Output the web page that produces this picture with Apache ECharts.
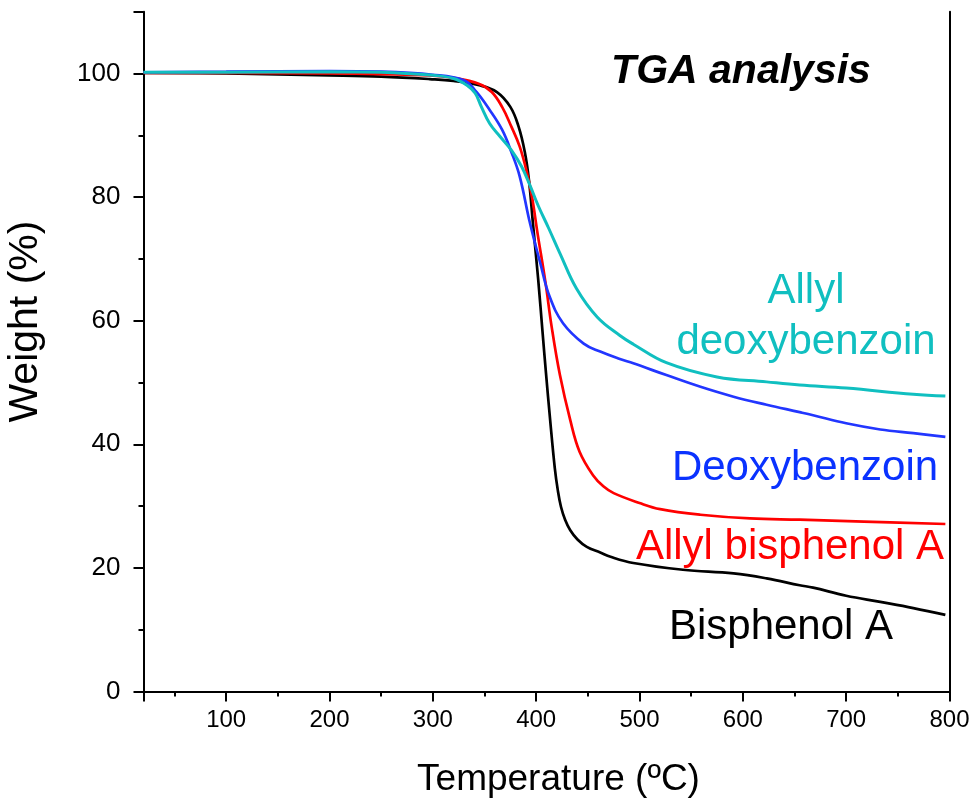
<!DOCTYPE html>
<html>
<head>
<meta charset="utf-8">
<script src="https://cdn.jsdelivr.net/npm/echarts@6/dist/echarts.min.js"></script>
<style>
html,body{margin:0;padding:0;background:#fff;}
#chart{width:977px;height:799px;}
</style>
</head>
<body>
<div id="chart"></div>
<script>
// Temperature (°C) and weight (%)
var bpaT = [20,100,200,250,297,320,345,362,375,383,389,393,397,402,406,409.5,413.5,418,421,424,428,433,440,449,462,472,494,542,591,623,655,668,700,733,765,796];
var bpaW = [100.1,100.0,99.7,99.5,99.1,98.8,98.1,97.0,94.6,91.4,87.3,82.8,75.5,66.6,58.5,51.5,44.0,36.2,32.5,29.9,27.8,26.1,24.6,23.4,22.5,21.8,20.8,19.7,19.1,18.3,17.2,16.8,15.5,14.5,13.5,12.4];

var abpaT = [20,100,200,250,297,320,345,357,367,376,384,391,396,401,409,415,423,433,442,455,465,475,500,520,559,607,655,717,796];
var abpaW = [100.1,100.1,100.0,99.9,99.7,99.3,98.3,97.0,94.6,91.4,88.2,84.0,80.0,74.5,66.2,59.0,51.2,43.9,38.8,35.0,33.2,32.1,30.5,29.5,28.6,28.0,27.8,27.5,27.1];

var dbT = [20,100,200,250,300,330,342,355,367,376,384,394,404,413,426,446,462,481,494,526,559,591,623,655,668,700,733,765,796];
var dbW = [100.2,100.3,100.4,100.3,99.8,98.9,97.05,94.1,90.9,87.3,83.4,75.8,69.3,63.9,59.6,56.3,55.0,53.8,53.1,51.2,49.3,47.7,46.4,45.2,44.7,43.4,42.4,41.8,41.2];

var adbT = [20,100,200,250,300,320,333,341,347,355,365,376,386,394,402,412,423,439,459,481,494,526,575,623,655,700,765,796];
var adbW = [100.2,100.2,100.3,100.2,99.7,99.2,98.1,96.8,94.6,91.9,89.8,87.6,84.9,81.9,78.6,75.0,70.9,65.2,60.6,57.6,56.2,53.2,50.9,50.1,49.6,49.1,48.1,47.8];

var seriesNames = ['Bisphenol A','Allyl bisphenol A','Deoxybenzoin','Allyl deoxybenzoin'];
var seriesColors = ['#000000','#ff0000','#2236ff','#10bfc0'];

function pairs(t, w){ return t.map(function(v,i){ return [v, w[i]]; }); }
var allData = [pairs(bpaT,bpaW), pairs(abpaT,abpaW), pairs(dbT,dbW), pairs(adbT,adbW)];

var chart = echarts.init(document.getElementById('chart'));
var FONT = 'Liberation Sans, Arial, sans-serif';

var option = {
  animation: false,
  backgroundColor: '#ffffff',
  grid: { left: 143.5, right: 27.5, top: 11.7, bottom: 107.5, containLabel: false, outerBoundsMode: 'none' },
  xAxis: {
    type: 'value', min: 20, max: 800, splitNumber: 8,
    name: 'Temperature (ºC)', nameLocation: 'middle', nameGap: 70,
    nameTextStyle: { fontFamily: FONT, fontSize: 37, color: '#000', padding: [0, 0, 0, 24] },
    axisLine: { onZero: false, lineStyle: { color: '#000', width: 2 } },
    axisTick: { inside: false, length: 10, lineStyle: { color: '#000', width: 2 } },
    minorTick: { show: true, splitNumber: 2, length: 5, lineStyle: { color: '#000', width: 2 } },
    axisLabel: { fontFamily: FONT, fontSize: 24, color: '#000', margin: 17, showMinLabel: false },
    splitLine: { show: false }
  },
  yAxis: [{
    type: 'value', min: 0, max: 110, interval: 20,
    name: 'Weight (%)', nameLocation: 'middle', nameGap: 97, nameRotate: 90,
    nameTextStyle: { fontFamily: FONT, fontSize: 41, color: '#000', padding: [0, 0, 0, 60] },
    axisLine: { lineStyle: { color: '#000', width: 2 } },
    axisTick: { inside: false, length: 10, lineStyle: { color: '#000', width: 2 } },
    minorTick: { show: true, splitNumber: 2, length: 5, lineStyle: { color: '#000', width: 2 } },
    axisLabel: { fontFamily: FONT, fontSize: 26, color: '#000', margin: 23, showMaxLabel: false },
    splitLine: { show: false }
  }, {
    type: 'value', min: 0, max: 110, position: 'right',
    axisLine: { show: true, lineStyle: { color: '#000', width: 2 } },
    axisTick: { show: false }, axisLabel: { show: false }, splitLine: { show: false }
  }],
  series: allData.map(function(d, i){
    return {
      name: seriesNames[i], type: 'line', data: d, showSymbol: false,
      smooth: 0.4,
      lineStyle: { color: seriesColors[i], width: i === 3 ? 3 : 2.7 },
      z: 2 + i
    };
  }),
  graphic: [
    { type: 'text', x: 741, y: 72, style: { text: 'TGA analysis', font: 'italic bold 41px ' + FONT, fill: '#000', textAlign: 'center', textVerticalAlign: 'middle' } },
    { type: 'text', x: 806, y: 291, style: { text: 'Allyl', font: '42px ' + FONT, fill: '#10bfc0', textAlign: 'center', textVerticalAlign: 'middle' } },
    { type: 'text', x: 806, y: 342, style: { text: 'deoxybenzoin', font: '42px ' + FONT, fill: '#10bfc0', textAlign: 'center', textVerticalAlign: 'middle' } },
    { type: 'text', x: 805, y: 468, style: { text: 'Deoxybenzoin', font: '42px ' + FONT, fill: '#0a32ff', textAlign: 'center', textVerticalAlign: 'middle' } },
    { type: 'text', x: 790, y: 547, style: { text: 'Allyl bisphenol A', font: '42px ' + FONT, fill: '#ff0000', textAlign: 'center', textVerticalAlign: 'middle' } },
    { type: 'text', x: 781, y: 627, style: { text: 'Bisphenol A', font: '42px ' + FONT, fill: '#000000', textAlign: 'center', textVerticalAlign: 'middle' } }
  ]
};
chart.setOption(option);
</script>
</body>
</html>
